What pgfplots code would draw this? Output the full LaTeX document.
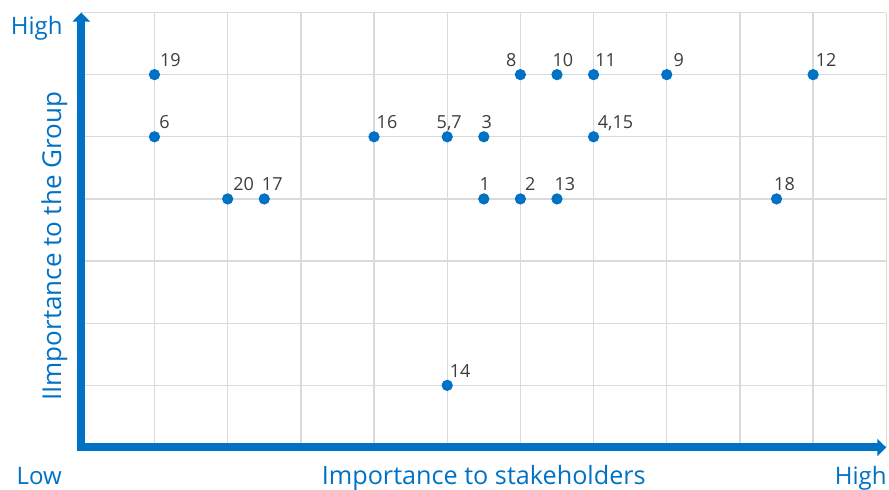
\documentclass[border=0pt]{standalone}
\usepackage{fontspec}
\setmainfont{Open Sans}
\usepackage{pgfplots}
\pgfplotsset{compat=1.18}
\usetikzlibrary{arrows.meta, calc}
\definecolor{corpblue}{HTML}{0072C6}
\definecolor{gridgray}{HTML}{DADADA}
\definecolor{labelgray}{HTML}{3C3C3C}

\begin{document}
\begin{tikzpicture}
\begin{axis}[
  scale only axis, width=402.5pt, height=217.5pt,
  xmin=0, xmax=11, ymin=0, ymax=7,
  enlargelimits=false,
  axis x line=bottom, axis y line=left,
  axis line style={line width=4pt, corpblue, line cap=rect,
                   -{Triangle[width=8.5pt,length=4.5pt]}},
  xtick={1,...,11}, ytick={1,...,7},
  xticklabels={}, yticklabels={},
  major tick length=0pt,
  grid=major, grid style={gridgray, line width=0.7pt},
  clip=false,
]
% label offsets dx in pt (right of the point)
\addplot[only marks, mark=*, mark size=2.6pt, corpblue,
  point meta=explicit symbolic,
  visualization depends on={\thisrow{dx}\as\dx},
  nodes near coords,
  nodes near coords style={anchor=base, inner sep=0pt, xshift=\dx pt, yshift=4pt,
                           font=\fontsize{9}{10}\selectfont, text=labelgray}]
  table[meta=label] {
x   y label dx
1   6 19   8
1   5 6    5
2   4 20   8
2.5 4 17   4
4   5 16   6.5
5   5 5,7  1
5.5 5 3    1.5
6   6 8   -4.5
6.5 6 10   3
7   6 11   6
8   6 9    6
10  6 12   6.5
7   5 4,15 11
5.5 4 1    0.5
6   4 2    5
6.5 4 13   4
9.5 4 18   4
5   1 14   6.5
};
\coordinate (O) at (axis cs:0,0);
\coordinate (YL) at (rel axis cs:0,0.5);
\coordinate (XL) at (rel axis cs:0.5,0);
\node[anchor=base east, inner sep=0pt, text=corpblue, font=\fontsize{12}{14}\selectfont,
      xshift=-9.2pt, yshift=-10.8pt] at (axis cs:0,7) {High};
\node[anchor=base east, inner sep=0pt, text=corpblue, font=\fontsize{12}{14}\selectfont,
      xshift=-9.6pt, yshift=-18.3pt] at (axis cs:0,0) {Low};
\node[anchor=base east, inner sep=0pt, text=corpblue, font=\fontsize{12}{14}\selectfont,
      xshift=0.3pt, yshift=-18.3pt] at (axis cs:11,0) {High};
\node[anchor=base, text=corpblue, font=\fontsize{12.6}{14}\selectfont]
      at ($(XL)+(0,-18.3pt)$) {Importance to stakeholders};
\node[rotate=90, anchor=center, text=corpblue, font=\fontsize{13}{15}\selectfont]
      at ($(YL)+(-13.5pt,-8.2pt)$) {IImportance to the Group};
\end{axis}
\pgfresetboundingbox
\path (O) ++(-40.65pt,-21.25pt) rectangle ++(444.5pt,245pt);
\end{tikzpicture}
\end{document}
